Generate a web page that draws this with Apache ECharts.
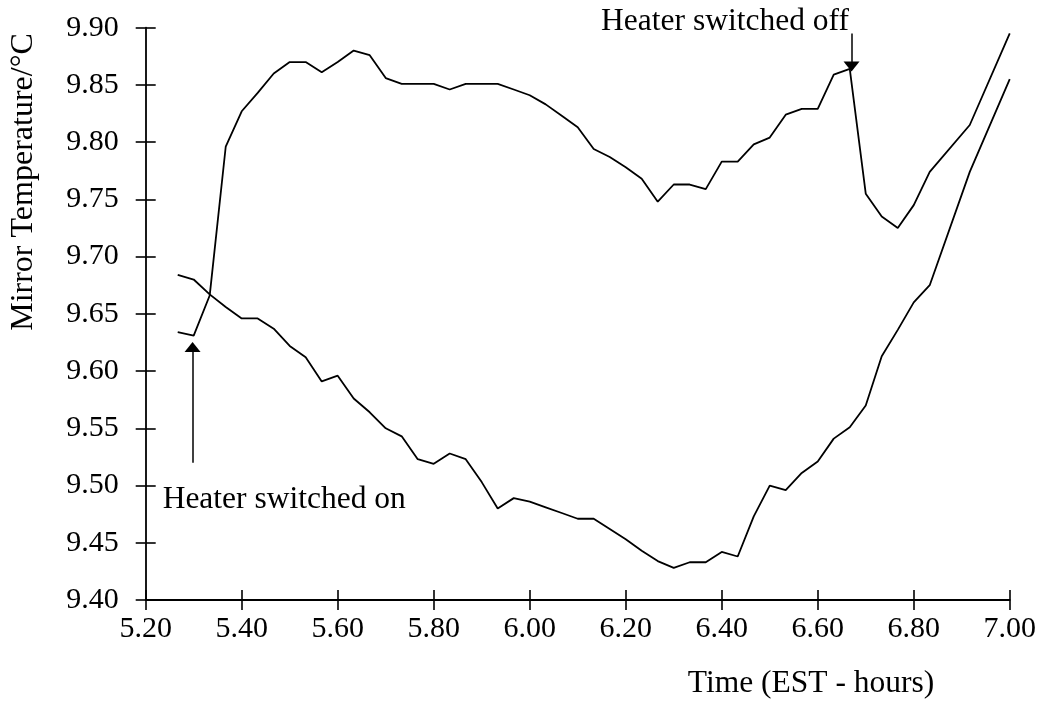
<!DOCTYPE html>
<html>
<head>
<meta charset="utf-8">
<title>Mirror Temperature</title>
<script src="https://cdn.jsdelivr.net/npm/echarts@6/dist/echarts.min.js"></script>
<style>
  html, body { margin: 0; padding: 0; background: #fff; }
  #chart { width: 1039px; height: 701px; }
</style>
</head>
<body>
<div id="chart"></div>
<script>
// Sample times (EST, decimal hours): 2-minute readings, then 5-minute readings at the end
const time = [
  5.2667, 5.3000, 5.3333, 5.3667, 5.4000, 5.4333, 5.4667, 5.5000, 5.5333, 5.5667,
  5.6000, 5.6333, 5.6667, 5.7000, 5.7333, 5.7667, 5.8000, 5.8333, 5.8667, 5.9000,
  5.9333, 5.9667, 6.0000, 6.0333, 6.0667, 6.1000, 6.1333, 6.1667, 6.2000, 6.2333,
  6.2667, 6.3000, 6.3333, 6.3667, 6.4000, 6.4333, 6.4667, 6.5000, 6.5333, 6.5667,
  6.6000, 6.6333, 6.6667, 6.7000, 6.7333, 6.7667, 6.8000, 6.8333, 6.9167, 7.0000
];

// Mirror temperature with the heater cycle (°C)
const heated = [
  9.634, 9.631, 9.666, 9.796, 9.827, 9.843, 9.860, 9.870, 9.870, 9.861,
  9.870, 9.880, 9.876, 9.856, 9.851, 9.851, 9.851, 9.846, 9.851, 9.851,
  9.851, 9.846, 9.841, 9.833, 9.823, 9.813, 9.794, 9.787, 9.778, 9.768,
  9.748, 9.763, 9.763, 9.759, 9.783, 9.783, 9.798, 9.804, 9.824, 9.829,
  9.829, 9.859, 9.864, 9.755, 9.735, 9.725, 9.745, 9.774, 9.815, 9.895
];

// Mirror temperature without heating (°C)
const unheated = [
  9.684, 9.680, 9.667, 9.656, 9.646, 9.646, 9.637, 9.622, 9.612, 9.591,
  9.596, 9.576, 9.564, 9.550, 9.543, 9.523, 9.519, 9.528, 9.523, 9.503,
  9.480, 9.489, 9.486, 9.481, 9.476, 9.471, 9.471, 9.462, 9.453, 9.443,
  9.434, 9.428, 9.433, 9.433, 9.442, 9.438, 9.473, 9.500, 9.496, 9.511,
  9.521, 9.541, 9.551, 9.570, 9.613, 9.636, 9.660, 9.675, 9.774, 9.855
];

// Axis ranges and tick steps
const xRange = [5.20, 7.00];
const xStep = 0.20;
const yRange = [9.40, 9.90];
const yStep = 0.05;

// Heater events: [time, arrow tail temp, arrow head temp]
const switchOn = [5.2976, 9.520, 9.621];
const switchOff = [6.6704, 9.895, 9.866];

const FONT = '"Liberation Serif", "Times New Roman", serif';
const INK = '#000';

const chart = echarts.init(document.getElementById('chart'), null, { renderer: 'canvas' });

// Each axis is drawn twice so that its ticks cross the axis line
function axisPair(isX) {
  const range = isX ? xRange : yRange;
  const step = isX ? xStep : yStep;
  const pos = isX ? 'bottom' : 'left';
  const base = {
    type: 'value', min: range[0], max: range[1], interval: step,
    position: pos, offset: 0, splitLine: { show: false }, scale: true
  };
  return [
    Object.assign({}, base, {
      axisLine: { show: true, onZero: false, lineStyle: { color: INK, width: 1.8 } },
      axisTick: { show: true, inside: false, length: 10, lineStyle: { color: INK, width: 1.6 } },
      axisLabel: {
        show: true, color: INK, fontFamily: FONT, fontSize: 30,
        margin: isX ? 14 : 27,
        formatter: v => v.toFixed(2)
      }
    }),
    Object.assign({}, base, {
      axisLine: { show: false, onZero: false },
      axisTick: { show: true, inside: true, length: 10, lineStyle: { color: INK, width: 1.6 } },
      axisLabel: { show: false }
    })
  ];
}

const option = {
  animation: false,
  backgroundColor: '#fff',
  grid: { left: 145.7, right: 26.3, top: 27.7, bottom: 101, containLabel: false },
  xAxis: axisPair(true),
  yAxis: axisPair(false),
  series: [
    {
      name: 'Heater cycle',
      type: 'line',
      xAxisIndex: 0, yAxisIndex: 0,
      showSymbol: false,
      lineStyle: { color: INK, width: 1.8 },
      data: time.map((t, i) => [t, heated[i]]),
      markLine: {
        silent: true,
        symbol: ['none', 'triangle'],
        symbolSize: [16, 10],
        lineStyle: { color: INK, width: 1.5, type: 'solid' },
        label: { show: false },
        data: [
          [{ coord: [switchOn[0], switchOn[1]] }, { coord: [switchOn[0], switchOn[2]] }],
          [{ coord: [switchOff[0], switchOff[1]] }, { coord: [switchOff[0], switchOff[2]] }]
        ]
      }
    },
    {
      name: 'No heating',
      type: 'line',
      xAxisIndex: 0, yAxisIndex: 0,
      showSymbol: false,
      lineStyle: { color: INK, width: 1.8 },
      data: time.map((t, i) => [t, unheated[i]])
    }
  ]
};
chart.setOption(option);

// Annotations anchored at data coordinates; axis titles in the margins
const onPos = chart.convertToPixel({ gridIndex: 0 }, [5.2353, 9.4878]);
const offPos = chart.convertToPixel({ gridIndex: 0 }, [6.6650, 9.9054]);
const textStyle = (t, align, size) => ({
  text: t, fill: INK, font: size + 'px ' + FONT, textAlign: align, textVerticalAlign: 'middle'
});
chart.setOption({
  graphic: [
    { type: 'text', x: onPos[0], y: onPos[1], style: textStyle('Heater switched on', 'left', 31.5) },
    { type: 'text', x: offPos[0], y: offPos[1], style: textStyle('Heater switched off', 'right', 31.5) },
    { type: 'text', x: 811, y: 684, style: textStyle('Time (EST - hours)', 'center', 31.5) },
    { type: 'text', x: 24, y: 182, rotation: Math.PI / 2, style: textStyle('Mirror Temperature/°C', 'center', 32) }
  ]
});
</script>
</body>
</html>
